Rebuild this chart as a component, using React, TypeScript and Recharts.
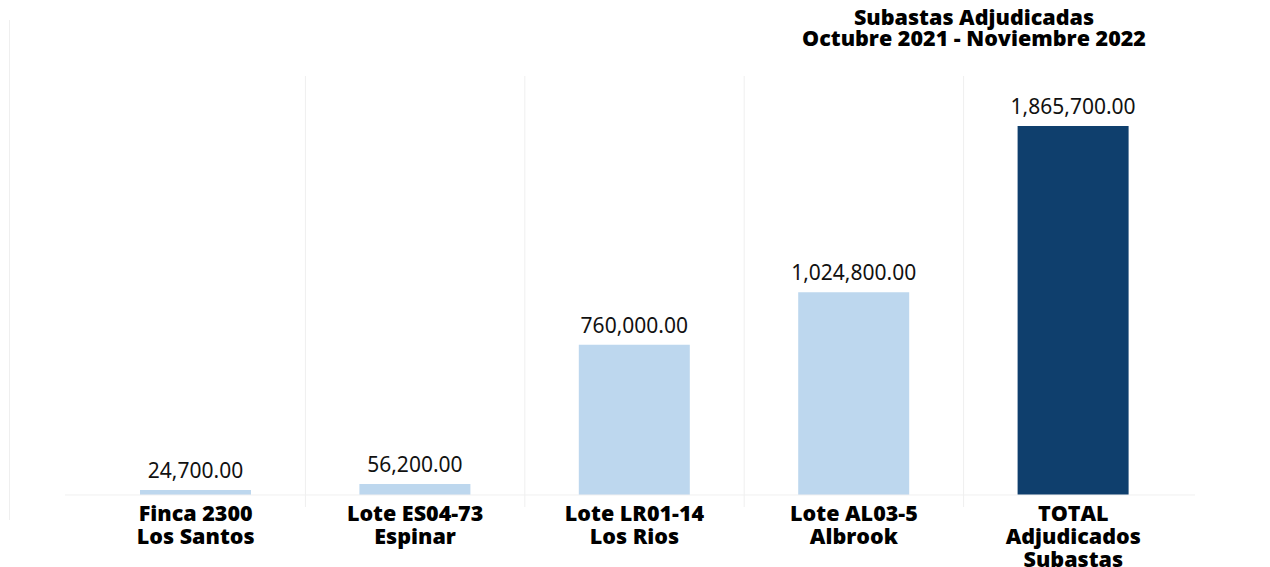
import React from 'react';
import {
  BarChart,
  Bar,
  XAxis,
  YAxis,
  Cell,
  LabelList,
  ReferenceLine,
} from 'recharts';

const categories = [
  'Finca 2300\nLos Santos',
  'Lote ES04-73\nEspinar',
  'Lote LR01-14\nLos Rios',
  'Lote AL03-5\nAlbrook',
  'TOTAL\nAdjudicados\nSubastas',
];
const amounts = [24700, 56200, 760000, 1024800, 1865700];
const barColors = ['#BDD7EE', '#BDD7EE', '#BDD7EE', '#BDD7EE', '#0F3F6D'];
const titleLines = ['Subastas Adjudicadas', 'Octubre 2021 - Noviembre 2022'];

const data = categories.map((name, i) => ({ pos: i, name, amount: amounts[i] }));
const positions = data.map((d) => d.pos);
// separators sit halfway between neighbouring categories
const separators = positions.slice(1).map((p) => p - 0.5);

const fmt = (v: number) =>
  v.toLocaleString('en-US', { minimumFractionDigits: 2, maximumFractionDigits: 2 });

const CategoryTick = (props: any) => {
  const { x, y, payload } = props;
  const lines = String(categories[payload.value] ?? '').split('\n');
  return (
    <text
      x={x}
      y={y + 14}
      textAnchor="middle"
      fill="#000"
      style={{ fontFamily: '"Open Sans", sans-serif', fontWeight: 800, fontSize: 21.5 }}
    >
      {lines.map((l, i) => (
        <tspan key={i} x={x} dy={i === 0 ? 0 : 23}>
          {l}
        </tspan>
      ))}
    </text>
  );
};

const App: React.FC = () => {
  return (
    <div
      style={{
        position: 'fixed',
        top: 0,
        left: 0,
        width: 1270,
        height: 567,
        background: '#fff',
      }}
    >
      <div
        style={{
          position: 'absolute',
          left: 9,
          top: 20,
          width: 1,
          height: 500,
          background: '#efefef',
        }}
      />
      <div
        style={{
          position: 'absolute',
          left: 774,
          top: 6,
          width: 400,
          textAlign: 'center',
          fontFamily: '"Open Sans", sans-serif',
          fontWeight: 800,
          fontSize: 21.5,
          lineHeight: '21px',
          color: '#000',
          zIndex: 2,
        }}
      >
        {titleLines.map((t) => (
          <div key={t}>{t}</div>
        ))}
      </div>
      <BarChart
        width={1270}
        height={567}
        data={data}
        margin={{ top: 76, right: 75, left: 65, bottom: 0 }}
        style={{ position: 'absolute', top: 0, left: 0 }}
      >
        <XAxis
          dataKey="pos"
          type="number"
          domain={[-0.5, positions.length - 0.5]}
          allowDataOverflow
          ticks={positions}
          height={60}
          axisLine={false}
          tickLine={false}
          tickSize={0}
          tickMargin={0}
          interval={0}
          padding={{ left: 21, right: 12 }}
          tick={<CategoryTick />}
        />
        <YAxis hide domain={[-60700, 2118500]} />
        {separators.map((s) => (
          <ReferenceLine key={s} x={s} stroke="#efefef" strokeWidth={1} />
        ))}
        <ReferenceLine y={0} stroke="#f0f0f0" strokeWidth={1} />
        <Bar dataKey="amount" barSize={111} isAnimationActive={false}>
          {data.map((d, i) => (
            <Cell key={d.name} fill={barColors[i]} />
          ))}
          <LabelList
            dataKey="amount"
            position="top"
            offset={12}
            formatter={(v: any) => fmt(Number(v))}
            style={{ fontFamily: '"Noto Sans", sans-serif', fontSize: 21, fill: '#111' }}
          />
        </Bar>
      </BarChart>
    </div>
  );
};

export default App;
